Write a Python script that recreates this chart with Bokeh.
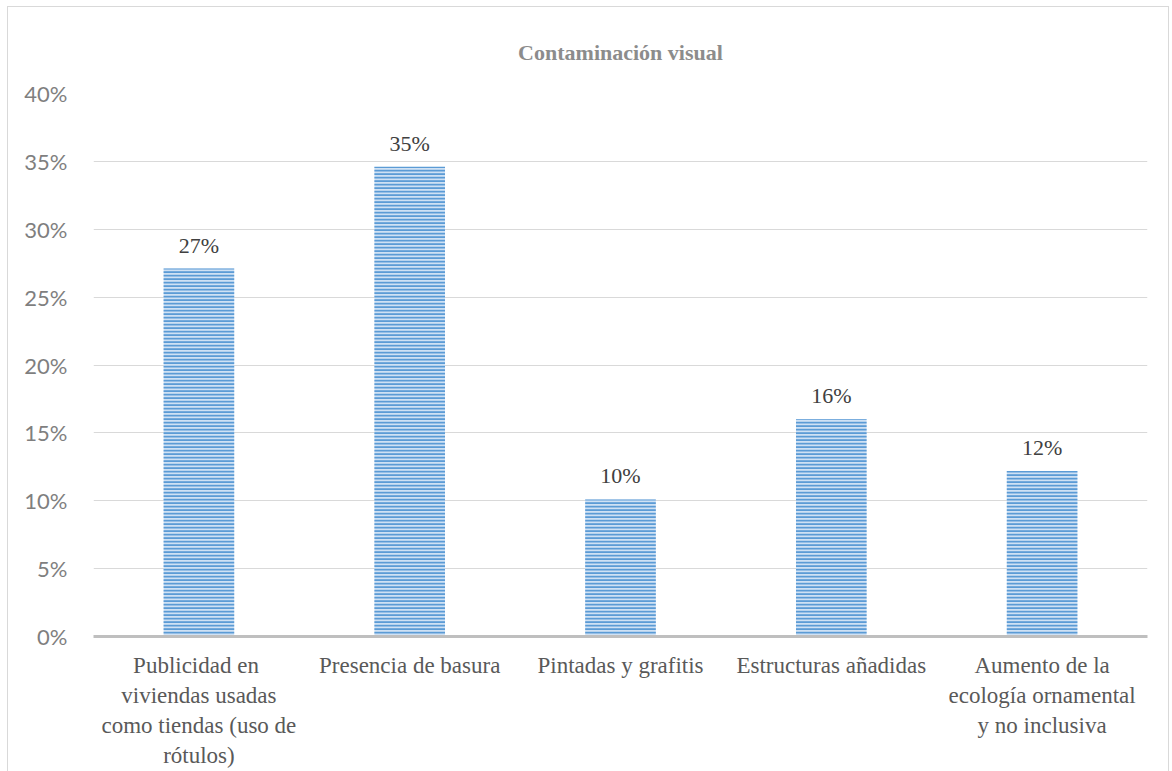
from bokeh.plotting import figure
from bokeh.models import FixedTicker, Range1d, ColumnDataSource, LabelSet, Title
from bokeh.embed import file_html
from bokeh.resources import INLINE

title_text = "Contaminación visual"
categories = [
    "Publicidad  en\nviviendas usadas\ncomo tiendas (uso de\nrótulos)",
    "Presencia de basura",
    "Pintadas y grafitis",
    "Estructuras añadidas",
    "Aumento de la\necología ornamental\ny no inclusiva",
]
values = [0.27, 0.35, 0.10, 0.16, 0.12]
bar_heights = [0.271, 0.346, 0.101, 0.160, 0.122]
labels = ["27%", "35%", "10%", "16%", "12%"]
y_ticks = [0, 0.05, 0.10, 0.15, 0.20, 0.25, 0.30, 0.35, 0.40]
y_tick_labels = ["0%", "5%", "10%", "15%", "20%", "25%", "30%", "35%", "40%"]

xs = list(range(1, len(categories) + 1))
src = ColumnDataSource(dict(x=xs, top=bar_heights, lab=labels))

p = figure(width=1162, height=766, output_backend="svg", toolbar_location=None,
           x_range=Range1d(0.5, 5.5), y_range=Range1d(0, 0.40),
           min_border_left=85, min_border_right=23, min_border_top=86, min_border_bottom=137)
p.styles = {"border": "1px solid #d9d9d9", "margin-left": "7px", "margin-top": "6px"}

p.title = Title(text=title_text, align="center", text_font="Liberation Serif",
                text_font_size="22px", text_font_style="bold", text_color="#8c8c8c", standoff=57)

p.vbar(x="x", top="top", width=0.335, source=src, fill_color="#cfe1f4", line_color=None,
       hatch_pattern="horizontal_line", hatch_color="#5b9bd5", hatch_scale=3.5, hatch_weight=2)

p.add_layout(LabelSet(x="x", y="top", text="lab", source=src, text_align="center",
                      text_baseline="bottom", y_offset=11, text_font="Liberation Serif",
                      text_font_size="22px", text_color="#404040"))

p.outline_line_color = None
p.xgrid.grid_line_color = None
p.ygrid.grid_line_color = "#d9d9d9"
p.ygrid.grid_line_width = 1

p.yaxis.ticker = FixedTicker(ticks=y_ticks)
p.yaxis.major_label_overrides = {t: l for t, l in zip(y_ticks, y_tick_labels)}
p.yaxis.axis_line_color = None
p.yaxis.major_tick_line_color = None
p.yaxis.minor_tick_line_color = None
p.yaxis.major_label_text_font = "Lato"
p.yaxis.major_label_text_font_size = "22px"
p.yaxis.major_label_text_color = "#7f7f7f"
p.yaxis.major_label_standoff = 20

p.xaxis.ticker = FixedTicker(ticks=xs)
p.xaxis.major_label_overrides = {x: c for x, c in zip(xs, categories)}
p.xaxis.axis_line_color = "#bfbfbf"
p.xaxis.axis_line_width = 3
p.xaxis.major_tick_line_color = None
p.xaxis.minor_tick_line_color = None
p.xaxis.major_label_text_font = "Liberation Serif"
p.xaxis.major_label_text_font_size = "23px"
p.xaxis.major_label_text_color = "#595959"
p.xaxis.major_label_standoff = 10

open("out.html", "w").write(file_html(p, INLINE))
